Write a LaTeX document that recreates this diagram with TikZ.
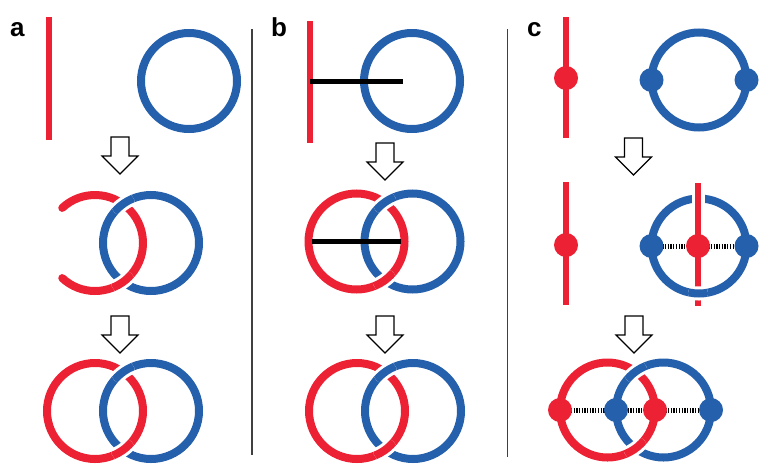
\documentclass[tikz,border=0pt]{standalone}
\usepackage{fontspec}
\setmainfont{Liberation Sans}
\definecolor{ringred}{RGB}{236,34,52}
\definecolor{ringblue}{RGB}{37,96,172}
\begin{document}
\begin{tikzpicture}[x=1pt,y=-1pt,
  redline/.style={ringred, line width=6.5},
  redring/.style={ringred, line width=8},
  bluering/.style={ringblue, line width=8},
  gapline/.style={white, line width=14},
  barline/.style={black, line width=5},
  linkline/.style={black, line width=5, dash pattern=on 1.3pt off 1.4pt},
  reddot/.style={fill=ringred},
  bluedot/.style={fill=ringblue},
  arrowbox/.style={draw=black, fill=white, line width=1.1, line join=miter},
  divider/.style={draw=black!75, line width=1.2},
  panellabel/.style={font=\bfseries\fontsize{26}{26}\selectfont, anchor=base west, inner sep=0},
  downarrow/.pic={\draw[arrowbox] (-9,0) -- (9,0) -- (9,19) -- (18,19) -- (0,37) -- (-18,19) -- (-9,19) -- cycle;}
]
\useasboundingbox[fill=white] (0,0) rectangle (759,463);

% dividers
\draw[divider] (252,29) -- (252,455);
\draw[divider] (507.5,29) -- (507.5,457);

% labels
\node[panellabel] (la) at (10,36) {a};
\node[panellabel] (lb) at (271,36) {b};
\node[panellabel] (lc) at (527,36) {c};

% ===== panel a =====
\draw[redline] (49,17) -- (49,140);
\draw[bluering] (189,81) circle (48);
\pic at (120,137) {downarrow};
% middle a
\draw[redring, line cap=round] (95,243) ++(-133:48) arc[start angle=-133, end angle=133, radius=48];
\draw[bluering] (151,243) circle (48);
\begin{scope}\clip (123,204) circle (12);
  \draw[gapline] (151,243) circle (48); \draw[bluering] (151,243) circle (48);
\end{scope}
\begin{scope}\clip (123,282) circle (12);
  \draw[gapline] (95,243) circle (48); \draw[redring] (95,243) circle (48);
\end{scope}
\pic at (120,316) {downarrow};
% bottom a
\draw[redring] (95,411) circle (48);
\draw[bluering] (151,411) circle (48);
\begin{scope}\clip (123,372) circle (12);
  \draw[gapline] (151,411) circle (48); \draw[bluering] (151,411) circle (48);
\end{scope}
\begin{scope}\clip (123,450) circle (12);
  \draw[gapline] (95,411) circle (48); \draw[redring] (95,411) circle (48);
\end{scope}

% ===== panel b =====
\draw[redline] (310,21) -- (310,143);
\draw[bluering] (412,81) circle (48);
\draw[barline] (310,81) -- (403,81);
\pic at (385,143) {downarrow};
% middle b
\draw[redring] (356.5,241.5) circle (48);
\draw[bluering] (412.5,241.5) circle (48);
\begin{scope}\clip (384.5,202.5) circle (12);
  \draw[gapline] (412.5,241.5) circle (48); \draw[bluering] (412.5,241.5) circle (48);
\end{scope}
\begin{scope}\clip (384.5,280.5) circle (12);
  \draw[gapline] (356.5,241.5) circle (48); \draw[redring] (356.5,241.5) circle (48);
\end{scope}
\draw[barline] (312,241) -- (401,241);
\pic at (385,316) {downarrow};
% bottom b
\draw[redring] (357,411) circle (48);
\draw[bluering] (413,411) circle (48);
\begin{scope}\clip (385,372) circle (12);
  \draw[gapline] (413,411) circle (48); \draw[bluering] (413,411) circle (48);
\end{scope}
\begin{scope}\clip (385,450) circle (12);
  \draw[gapline] (357,411) circle (48); \draw[redring] (357,411) circle (48);
\end{scope}

% ===== panel c =====
\draw[redline] (566,17) -- (566,138);
\fill[reddot] (566,78) circle (12);
\draw[bluering] (699,80) circle (47.5);
\fill[bluedot] (651.5,80) circle (12);
\fill[bluedot] (746.5,80) circle (12);
\pic at (633.5,138) {downarrow};
% middle c
\draw[redline] (566,182) -- (566,305);
\fill[reddot] (566,245) circle (12);
\draw[bluering] (699,246) circle (47.5);
\draw[white, line width=13] (698,183) -- (698,306);
\draw[redline] (698,183) -- (698,306);
\begin{scope}\clip (698,293.5) circle (10);
  \draw[gapline] (699,246) circle (47.5); \draw[bluering] (699,246) circle (47.5);
\end{scope}
\draw[linkline] (651.5,246) -- (746.5,246);
\fill[bluedot] (651.5,246) circle (12);
\fill[bluedot] (746.5,246) circle (12);
\fill[reddot] (698,246) circle (12);
\pic at (634,316) {downarrow};
% bottom c
\draw[redring] (607.5,410) circle (47.5);
\draw[bluering] (663.5,410) circle (47.5);
\begin{scope}\clip (635.5,371.6) circle (12);
  \draw[gapline] (663.5,410) circle (47.5); \draw[bluering] (663.5,410) circle (47.5);
\end{scope}
\begin{scope}\clip (635.5,448.4) circle (12);
  \draw[gapline] (607.5,410) circle (47.5); \draw[redring] (607.5,410) circle (47.5);
\end{scope}
\draw[linkline] (560,410) -- (711,410);
\fill[reddot] (560,410) circle (12);
\fill[bluedot] (616,410) circle (12);
\fill[reddot] (655,410) circle (12);
\fill[bluedot] (711,410) circle (12);
\end{tikzpicture}
\end{document}
